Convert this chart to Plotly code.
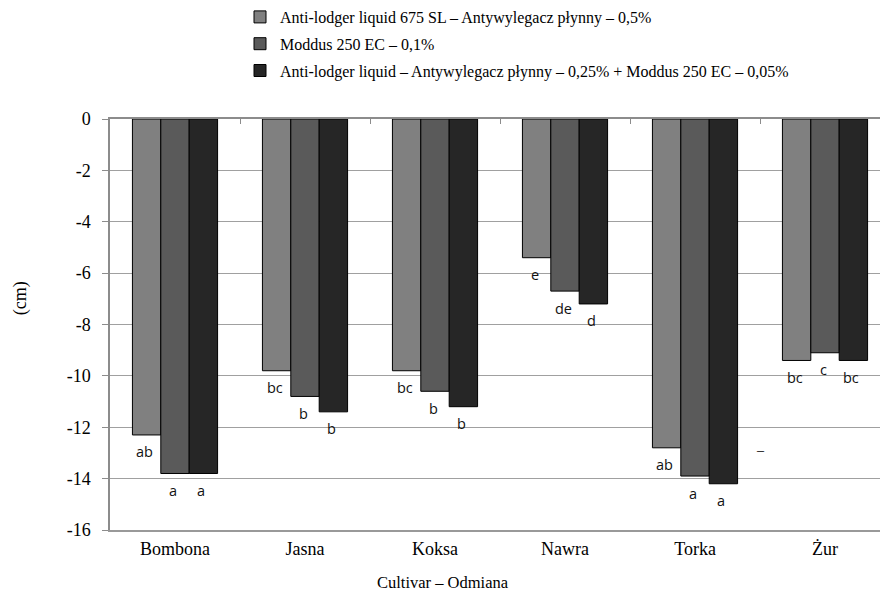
import plotly.graph_objects as go

# Cultivars and mean change in plant height (cm) per growth regulator treatment
cultivars = ["Bombona", "Jasna", "Koksa", "Nawra", "Torka", "Żur"]

series_names = [
    "Anti-lodger liquid 675 SL – Antywylegacz płynny – 0,5%",
    "Moddus 250 EC – 0,1%",
    "Anti-lodger liquid – Antywylegacz płynny – 0,25% + Moddus 250 EC – 0,05%",
]

anti_lodger = [-12.3, -9.8, -9.8, -5.4, -12.8, -9.4]
moddus = [-13.8, -10.8, -10.6, -6.7, -13.9, -9.1]
mixture = [-13.8, -11.4, -11.2, -7.2, -14.2, -9.4]

# Homogeneous groups (significance letters) for each bar
letters_anti_lodger = ["ab", "bc", "bc", "e", "ab", "bc"]
letters_moddus = ["a", "b", "b", "de", "a", "c"]
letters_mixture = ["a", "b", "b", "d", "a", "bc"]

y_ticks = list(range(-16, 1, 2))

values = [anti_lodger, moddus, mixture]
letters = [letters_anti_lodger, letters_moddus, letters_mixture]
colors = ["#808080", "#5a5a5a", "#262626"]

SERIF = "Liberation Serif, Times New Roman, serif"
SANS = "Open Sans, DejaVu Sans, sans-serif"

W, H = 880, 610
M_L, M_R, M_T, M_B = 110, 0, 117, 80
BARGAP = 0.345
X_RANGE = [-0.5, 5.423]

fig = go.Figure()
for k in range(3):
    fig.add_trace(go.Bar(
        x=cultivars, y=values[k], name=series_names[k],
        marker=dict(color=colors[k], line=dict(color="#000000", width=1)),
        legendgroup=f"g{k}",
    ))

# helper axis along the zero line carrying the category-boundary ticks
fig.add_trace(go.Scatter(
    x=cultivars, y=[0] * len(cultivars), xaxis="x2", mode="markers",
    marker=dict(opacity=0), showlegend=False, hoverinfo="skip",
))

# pixel width of one bar, used to place letters under each bar
plot_w = W - M_L - M_R
plot_h = H - M_T - M_B
px_per_cat = plot_w / (X_RANGE[1] - X_RANGE[0])
bar_px = px_per_cat * (1 - BARGAP) / 3

annotations = []
for k in range(3):
    for j, cat in enumerate(cultivars):
        annotations.append(dict(
            x=cat, y=values[k][j], xref="x", yref="y",
            text=letters[k][j], showarrow=False,
            xshift=(k - 1) * bar_px - 2, yshift=-17,
            font=dict(family=SANS, size=14.5, color="#111111"),
        ))

annotations.append(dict(
    x=4.5, y=-12.9, xref="x", yref="y", text="–", showarrow=False,
    font=dict(family=SERIF, size=14, color="#000000"),
))

# axis titles
annotations.append(dict(
    x=(20 - M_L) / plot_w, y=1 - (297 - M_T) / plot_h,
    xref="paper", yref="paper", xanchor="center", yanchor="middle",
    text="(cm)", textangle=-90, showarrow=False,
    font=dict(family=SERIF, size=18, color="#000000"),
))
annotations.append(dict(
    x=(443 - M_L) / plot_w, y=1 - (583 - M_T) / plot_h,
    xref="paper", yref="paper", xanchor="center", yanchor="middle",
    text="Cultivar – Odmiana", showarrow=False,
    font=dict(family=SERIF, size=16.5, color="#000000"),
))

fig.update_layout(
    width=W, height=H,
    margin=dict(l=M_L, r=M_R, t=M_T, b=M_B),
    paper_bgcolor="white", plot_bgcolor="white",
    barmode="group", bargap=BARGAP, bargroupgap=0,
    showlegend=True,
    legend=dict(
        x=(240 - M_L) / plot_w, xanchor="left",
        y=1 + (M_T + 3) / plot_h, yanchor="top",
        font=dict(family=SERIF, size=16, color="#000000"),
        traceorder="grouped", tracegroupgap=3,
        bgcolor="rgba(0,0,0,0)",
    ),
    xaxis=dict(
        type="category", categoryorder="array", categoryarray=cultivars,
        range=X_RANGE, showgrid=False, zeroline=False,
        showline=True, linecolor="#999999", linewidth=1.5,
        ticks="", ticklabelstandoff=2,
        tickfont=dict(family=SERIF, size=18, color="#000000"),
    ),
    xaxis2=dict(
        type="category", categoryorder="array", categoryarray=cultivars,
        range=X_RANGE, overlaying="x", side="top", anchor="y",
        showgrid=False, zeroline=False, showticklabels=False,
        showline=True, linecolor="#8c8c8c", linewidth=1.5,
        ticks="inside", tickson="boundaries", ticklen=5,
        tickcolor="#8c8c8c", tickwidth=1,
    ),
    yaxis=dict(
        range=[-16, 0], tickvals=y_ticks, ticktext=[str(v) for v in y_ticks],
        showgrid=True, gridcolor="#a0a0a0", gridwidth=1.2, zeroline=False,
        showline=True, linecolor="#8c8c8c", linewidth=1.5,
        ticks="outside", ticklen=6, tickcolor="#8c8c8c", tickwidth=1,
        ticklabelstandoff=8,
        tickfont=dict(family=SERIF, size=18, color="#000000"),
    ),
    annotations=annotations,
)

fig.write_html("out.html")
